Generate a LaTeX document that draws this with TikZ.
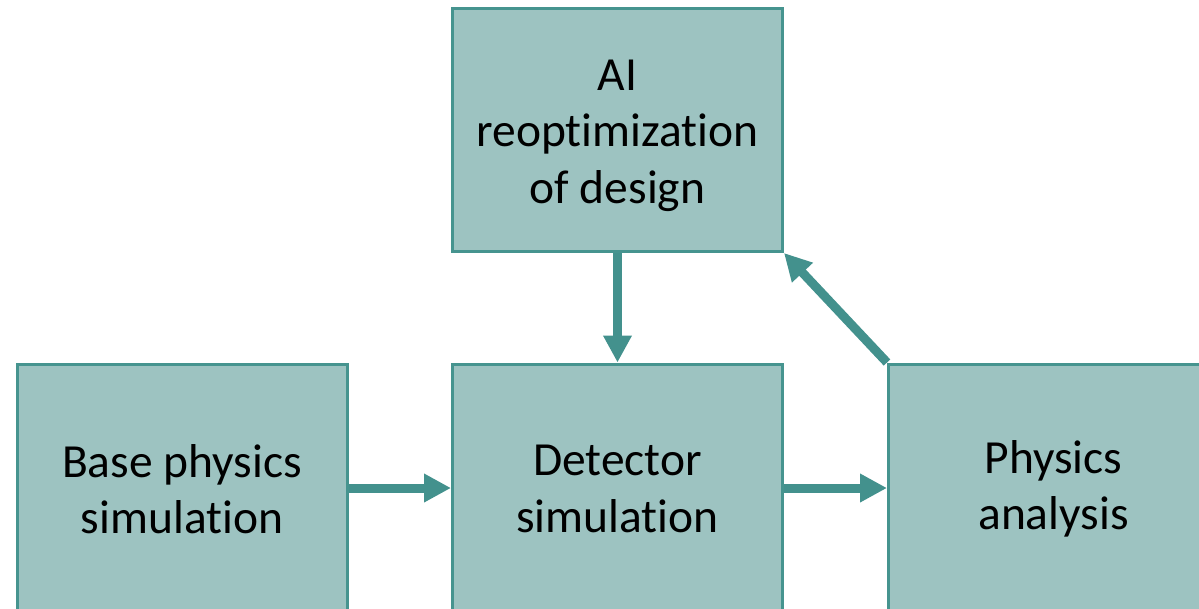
\documentclass[tikz,border=0pt]{standalone}
\usepackage{fontspec}
\setmainfont[Ligatures=NoCommon]{Carlito}
\usetikzlibrary{arrows.meta}
\definecolor{boxfill}{HTML}{9DC3C1}
\definecolor{boxline}{HTML}{46948F}
\definecolor{arrowc}{HTML}{43918D}
\tikzset{
  stage/.style={draw=boxline, fill=boxfill, line width=3pt, minimum width=330pt, minimum height=243pt, inner sep=0pt, align=center, font=\fontsize{47.5}{56.5}\selectfont},
  low/.style={minimum height=250pt},
  flow/.style={draw=arrowc, line width=9pt, -{Triangle[width=27pt,length=27pt]}}
}
\begin{document}
\begin{tikzpicture}[x=1pt,y=-1pt]
\useasboundingbox (0,0) rectangle (1199,608);
\clip (0,0) rectangle (1199,608);
\node[stage, text height=155pt] (ai) at (617.5,130) {AI\\reoptimization\\of design};
\node[stage, low] (base) at (182,489) {Base physics\\simulation};
\node[stage, low] (det) at (617.5,489) {Detector\\simulation};
\node[stage, low] (ana) at (1053.5,489) {Physics\\analysis};
\draw[flow] (base.east |- 0,488) -- (det.west |- 0,488);
\draw[flow] (det.east |- 0,488) -- (ana.west |- 0,488);
\draw[flow] (ai.south) -- (det.north);
\draw[flow] (ana.north west) -- (ai.south east);
\end{tikzpicture}
\end{document}
